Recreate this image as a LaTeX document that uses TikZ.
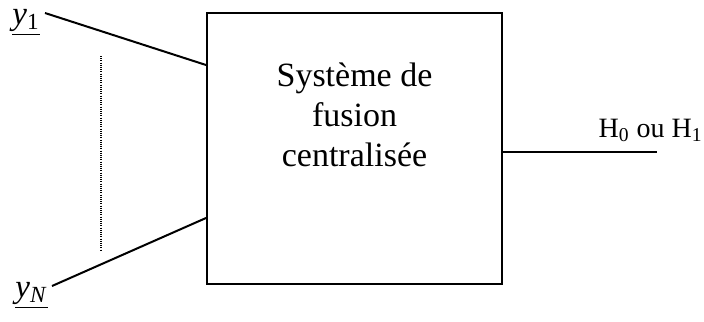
\documentclass[tikz,border=0pt]{standalone}
\usepackage{fontspec}
\setmainfont{Liberation Serif}
\usetikzlibrary{calc}

\tikzset{
  wire/.style={line width=1pt},
  inlabel/.style={font=\fontsize{16.5}{20}\selectfont, inner sep=0pt, anchor=base west}
}

\begin{document}
\begin{tikzpicture}[x=0.5pt, y=-0.5pt]
    \useasboundingbox (0,0) rectangle (704,321);
    % bloc central
    \node[draw, wire, minimum width=147.5pt, minimum height=135.5pt] (fusion) at (354.5,148.5) {};
    \node[font=\fontsize{17}{20}\selectfont, align=center] (titre) at (354.5,115) {Système de\\fusion\\centralisée};
    % entrees
    \node[inlabel] (y1) at (12,24) {\underline{\textit{y}\textsubscript{1}}};
    \node[inlabel] (yN) at (15,297) {\underline{\textit{y}\textsubscript{\textit{N}}}};
    \coordinate (d1) at (45,13);
    \coordinate (dN) at (52,286);
    \coordinate (e1) at (fusion.west |- 0,65);
    \coordinate (eN) at (fusion.west |- 0,218);
    \draw[wire] (d1) -- (e1);
    \draw[wire] (dN) -- (eN);
    \draw[line width=0.6pt, dash pattern=on 0.5pt off 0.6pt] (101,56) -- (101,250);
    % sortie
    \coordinate (s) at (657,152);
    \draw[wire] (fusion.east |- s) -- (s);
    \node[font=\fontsize{14}{17}\selectfont, anchor=base east, inner sep=0pt] (decision) at (703,137) {H\textsubscript{0} ou H\textsubscript{1}};
\end{tikzpicture}
\end{document}
